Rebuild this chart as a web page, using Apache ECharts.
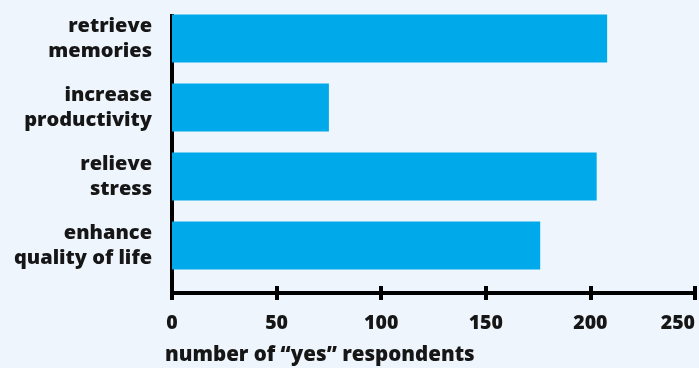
<!DOCTYPE html>
<html>
<head>
<meta charset="utf-8">
<script src="https://cdn.jsdelivr.net/npm/echarts@6/dist/echarts.min.js"></script>
<style>
  html, body { margin: 0; padding: 0; background: #eef5fc; }
  #main { width: 699px; height: 368px; }
</style>
</head>
<body>
<div id="main"></div>
<script>
// data
var categories = ['retrieve\nmemories', 'increase\nproductivity', 'relieve\nstress', 'enhance\nquality of life'];
var respondents = [208, 75, 203, 176];
var xTicks = [0, 50, 100, 150, 200, 250];
var axisTitle = 'number of \u201cyes\u201d respondents';

var font = '"Open Sans", "Noto Sans", sans-serif';
var ink = '#161616';

var chartDom = document.getElementById('main');
var myChart = echarts.init(chartDom, null, { renderer: 'canvas' });

var option = {
  backgroundColor: '#eef5fc',
  animation: false,
  title: {
    text: axisTitle,
    left: 160,
    top: 340,
    textStyle: { fontFamily: font, fontWeight: 800, fontSize: 20.5, color: ink }
  },
  grid: [
    // bars + category labels
    { left: 172, right: 4, top: 4, height: 276, outerBoundsMode: 'none' },
    // axis frame
    { left: 172, right: 4, top: 16, bottom: 75, outerBoundsMode: 'none' }
  ],
  xAxis: [
    { gridIndex: 0, type: 'value', min: xTicks[0], max: xTicks[xTicks.length - 1], show: false },
    {
      gridIndex: 1, type: 'value', position: 'bottom',
      min: xTicks[0], max: xTicks[xTicks.length - 1], interval: xTicks[1] - xTicks[0],
      axisLine: { show: true, lineStyle: { color: '#000', width: 4, cap: 'square' } },
      axisTick: { show: true, length: 7, lineStyle: { color: '#000', width: 4 } },
      splitLine: { show: false },
      axisLabel: {
        margin: 20, hideOverlap: false, alignMaxLabel: 'right',
        fontFamily: font, fontWeight: 800, fontSize: 19.5, color: ink
      }
    },
    {
      gridIndex: 1, type: 'value', position: 'bottom',
      min: xTicks[0], max: xTicks[xTicks.length - 1], interval: xTicks[1] - xTicks[0],
      axisLine: { show: false },
      axisTick: { show: true, inside: true, length: 7, lineStyle: { color: '#000', width: 4 } },
      splitLine: { show: false },
      axisLabel: { show: false }
    }
  ],
  yAxis: [
    {
      gridIndex: 0, type: 'category', inverse: true, data: categories,
      axisLine: { show: false },
      axisTick: { show: false },
      splitLine: { show: false },
      axisLabel: {
        margin: 20,
        fontFamily: font, fontWeight: 800, fontSize: 20, color: ink,
        lineHeight: 25, align: 'right'
      }
    },
    {
      gridIndex: 1, type: 'value', min: 0, max: 1,
      axisLine: { show: true, lineStyle: { color: '#000', width: 4, cap: 'square' } },
      axisTick: { show: false },
      axisLabel: { show: false },
      splitLine: { show: false }
    }
  ],
  series: [
    {
      type: 'bar',
      xAxisIndex: 0,
      yAxisIndex: 0,
      data: respondents,
      barWidth: 48,
      itemStyle: { color: '#00a9e9' }
    }
  ]
};

option && myChart.setOption(option);
</script>
</body>
</html>
